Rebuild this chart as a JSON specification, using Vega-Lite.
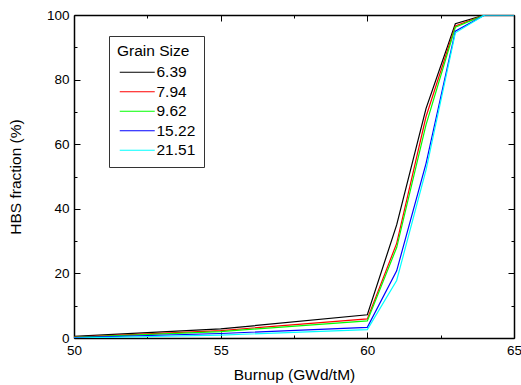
{
  "$schema": "https://vega.github.io/schema/vega-lite/v6.json",
  "autosize": "none",
  "width": 440,
  "height": 323,
  "padding": {"left": 74, "top": 15, "right": 7, "bottom": 47},
  "background": "white",
  "config": {
    "font": "Liberation Sans",
    "view": {"stroke": null},
    "axis": {"grid": false, "domainColor": "#000", "domainWidth": 1.5, "tickColor": "#000", "tickWidth": 1, "labelColor": "#000", "titleColor": "#000", "labelFont": "Liberation Sans", "titleFont": "Liberation Sans", "labelFontSize": 13.5, "titleFontSize": 15.5, "titleFontWeight": "normal"}
  },
  "data": {
    "values": [
      {"burnup": 50, "hbs": 0.5, "grain": "6.39"},
      {"burnup": 55, "hbs": 2.8, "grain": "6.39"},
      {"burnup": 60, "hbs": 7.2, "grain": "6.39"},
      {"burnup": 61, "hbs": 35, "grain": "6.39"},
      {"burnup": 62, "hbs": 71, "grain": "6.39"},
      {"burnup": 63, "hbs": 97.3, "grain": "6.39"},
      {"burnup": 64, "hbs": 100, "grain": "6.39"},
      {"burnup": 65, "hbs": 100, "grain": "6.39"},
      {"burnup": 50, "hbs": 0.3, "grain": "7.94"},
      {"burnup": 55, "hbs": 2.3, "grain": "7.94"},
      {"burnup": 60, "hbs": 5.9, "grain": "7.94"},
      {"burnup": 61, "hbs": 29.3, "grain": "7.94"},
      {"burnup": 62, "hbs": 68.5, "grain": "7.94"},
      {"burnup": 63, "hbs": 96.6, "grain": "7.94"},
      {"burnup": 64, "hbs": 100, "grain": "7.94"},
      {"burnup": 65, "hbs": 100, "grain": "7.94"},
      {"burnup": 50, "hbs": 0.2, "grain": "9.62"},
      {"burnup": 55, "hbs": 2.0, "grain": "9.62"},
      {"burnup": 60, "hbs": 5.3, "grain": "9.62"},
      {"burnup": 61, "hbs": 28, "grain": "9.62"},
      {"burnup": 62, "hbs": 66, "grain": "9.62"},
      {"burnup": 63, "hbs": 96.2, "grain": "9.62"},
      {"burnup": 64, "hbs": 100, "grain": "9.62"},
      {"burnup": 65, "hbs": 100, "grain": "9.62"},
      {"burnup": 50, "hbs": 0.1, "grain": "15.22"},
      {"burnup": 55, "hbs": 1.4, "grain": "15.22"},
      {"burnup": 60, "hbs": 3.3, "grain": "15.22"},
      {"burnup": 61, "hbs": 20.8, "grain": "15.22"},
      {"burnup": 62, "hbs": 54, "grain": "15.22"},
      {"burnup": 63, "hbs": 95, "grain": "15.22"},
      {"burnup": 64, "hbs": 100, "grain": "15.22"},
      {"burnup": 65, "hbs": 100, "grain": "15.22"},
      {"burnup": 50, "hbs": 0, "grain": "21.51"},
      {"burnup": 55, "hbs": 0.9, "grain": "21.51"},
      {"burnup": 60, "hbs": 2.6, "grain": "21.51"},
      {"burnup": 61, "hbs": 17.8, "grain": "21.51"},
      {"burnup": 62, "hbs": 52, "grain": "21.51"},
      {"burnup": 63, "hbs": 94.5, "grain": "21.51"},
      {"burnup": 64, "hbs": 100, "grain": "21.51"},
      {"burnup": 65, "hbs": 100, "grain": "21.51"}
    ]
  },
  "layer": [
    {
      "mark": {"type": "line", "strokeWidth": 1.2, "clip": true},
      "encoding": {
        "x": {"field": "burnup", "type": "quantitative", "scale": {"domain": [50, 65], "nice": false}, "axis": {"orient": "bottom", "title": "Burnup (GWd/tM)", "values": [50, 52.5, 55, 57.5, 60, 62.5, 65], "labelExpr": "datum.value % 5 === 0 ? datum.label : ''", "tickSize": {"condition": {"test": "datum.value % 5 === 0", "value": -6}, "value": -3}, "labelPadding": 11, "titlePadding": 8, "labelFlush": false, "labelOverlap": false}},
        "y": {"field": "hbs", "type": "quantitative", "scale": {"domain": [0, 100], "nice": false}, "axis": {"orient": "left", "title": "HBS fraction (%)", "values": [0, 10, 20, 30, 40, 50, 60, 70, 80, 90, 100], "labelExpr": "datum.value % 20 === 0 ? datum.label : ''", "tickSize": {"condition": {"test": "datum.value % 20 === 0", "value": -6}, "value": -3}, "labelPadding": 11, "titlePadding": 23, "labelFlush": false, "labelOverlap": false}},
        "color": {
          "field": "grain", "type": "nominal",
          "scale": {"domain": ["6.39", "7.94", "9.62", "15.22", "21.51"], "range": ["#000000", "#ff0000", "#00ff00", "#0000ff", "#00ffff"]},
          "legend": {"title": "Grain Size", "orient": "none", "legendX": 35, "legendY": 21, "strokeColor": "#333", "fillColor": "white", "padding": 8, "symbolType": "M-1,0H6", "symbolSize": 100, "symbolStrokeWidth": 1.2, "labelFontSize": 15.5, "titleFontSize": 15.5, "titleFontWeight": "normal", "labelFont": "Liberation Sans", "titleFont": "Liberation Sans", "labelColor": "#000", "titleColor": "#000", "rowPadding": 2.5, "labelOffset": 24, "titlePadding": 5}
        }
      }
    },
    {
      "mark": {"type": "line", "opacity": 0},
      "encoding": {
        "x": {"field": "burnup", "type": "quantitative", "axis": {"orient": "top", "title": null, "labels": false, "values": [50, 52.5, 55, 57.5, 60, 62.5, 65], "tickSize": {"condition": {"test": "datum.value % 5 === 0", "value": -6}, "value": -3}}},
        "y": {"field": "hbs", "type": "quantitative", "axis": {"orient": "right", "title": null, "labels": false, "values": [0, 10, 20, 30, 40, 50, 60, 70, 80, 90, 100], "tickSize": {"condition": {"test": "datum.value % 20 === 0", "value": -6}, "value": -3}}},
        "detail": {"field": "grain", "type": "nominal"}
      }
    }
  ],
  "resolve": {"axis": {"x": "independent", "y": "independent"}}
}
